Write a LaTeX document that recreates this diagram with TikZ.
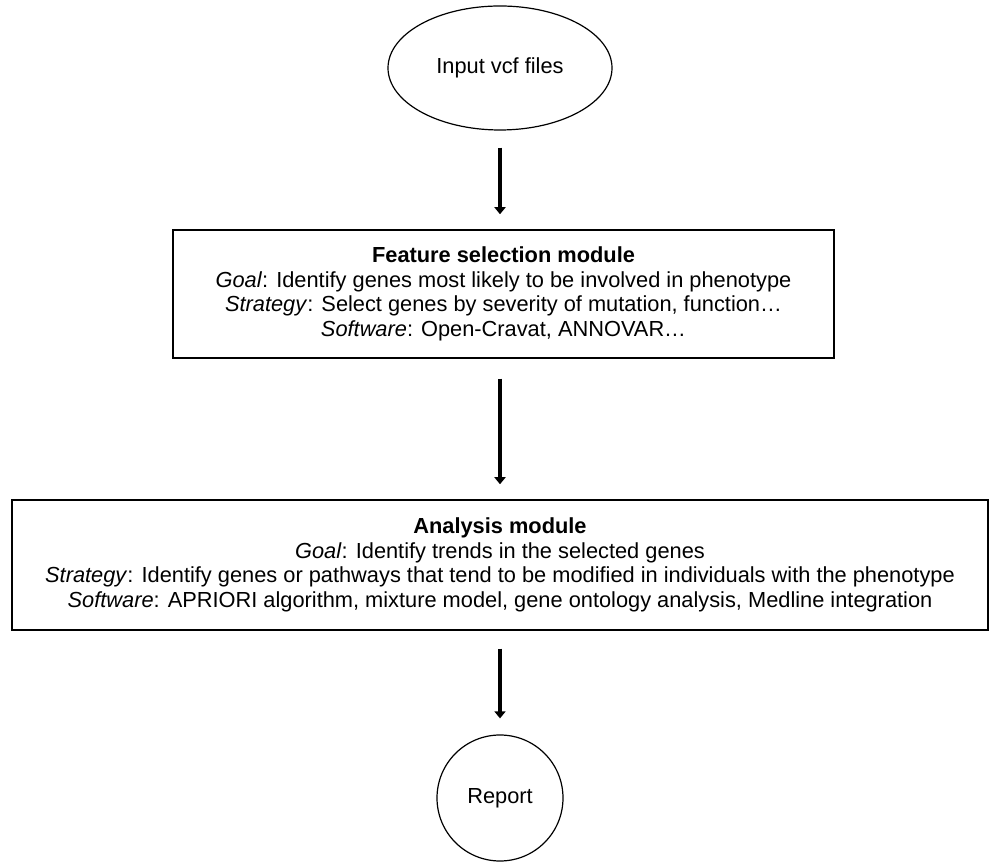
\documentclass[tikz,border=0pt]{standalone}
\usepackage{fontspec}
\setmainfont{Liberation Sans}
\usetikzlibrary{arrows.meta,shapes.geometric}
\begin{document}
\begin{tikzpicture}[x=1pt,y=1pt,
  every node/.style={font=\fontsize{21.8}{24.5}\selectfont, inner sep=0pt},
  boxnode/.style={draw, line width=1.5pt, align=center, anchor=center},
  flowarrow/.style={line width=3.5pt, -{Triangle[width=11pt,length=7pt]}},
]
\useasboundingbox (0,0) rectangle (1000,864);
\node[draw, line width=1.2pt, ellipse, minimum width=224pt, minimum height=124pt] (input) at (500,796) {Input vcf files};
\node[boxnode, minimum width=661pt, minimum height=128pt] (fsel) at (503.5,570) {\textbf{Feature selection module}\\
\textit{Goal}: Identify genes most likely to be involved in phenotype\\
\textit{Strategy}: Select genes by severity of mutation, function\ldots\\
\textit{Software}: Open-Cravat, ANNOVAR\ldots};
\node[boxnode, minimum width=976pt, minimum height=130pt] (anal) at (500,299) {\textbf{Analysis module}\\
\textit{Goal}: Identify trends in the selected genes\\
\textit{Strategy}: Identify genes or pathways that tend to be modified in individuals with the phenotype\\
\textit{Software}: APRIORI algorithm, mixture model, gene ontology analysis, Medline integration};
\node[draw, line width=1.2pt, circle, minimum size=126pt] (report) at (500,66) {Report};
\draw[flowarrow, shorten <=17pt, shorten >=15pt] (input.south) -- (input.south |- fsel.north);
\draw[flowarrow, shorten <=20pt, shorten >=15pt] (fsel.south -| input.south) -- (input.south |- anal.north);
\draw[flowarrow, shorten <=18pt, shorten >=16pt] (anal.south) -- (report.north);
\end{tikzpicture}
\end{document}
